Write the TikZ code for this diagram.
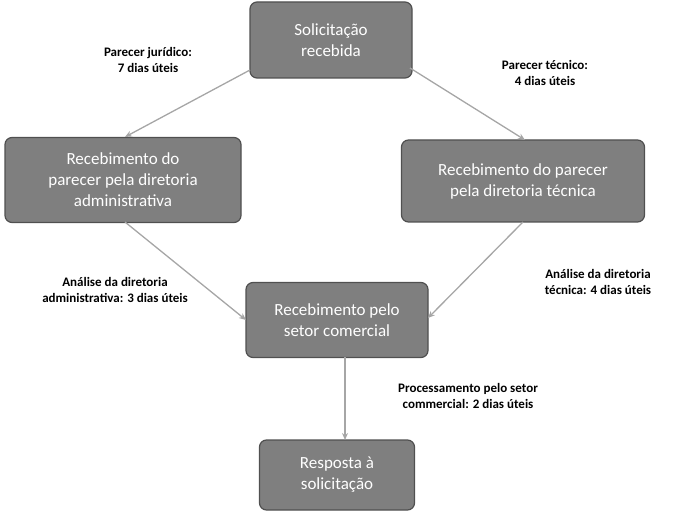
\documentclass[tikz,border=0pt]{standalone}
\usepackage{fontspec}
\setmainfont{Carlito}
\usetikzlibrary{arrows.meta}
\definecolor{boxfill}{HTML}{7F7F7F}
\definecolor{boxline}{HTML}{505050}
\definecolor{arr}{HTML}{A6A6A6}
\begin{document}
\begin{tikzpicture}[x=1pt,y=-1pt,
  box/.style={draw=boxline,line width=1.2pt,fill=boxfill,rounded corners=7pt,text=white,font=\fontsize{17}{21}\selectfont,align=center,inner sep=0pt},
  lab/.style={font=\bfseries\fontsize{13}{16}\selectfont,align=center},
  con/.style={draw=arr,line width=1.3pt,-{Stealth[length=7pt,width=6pt]}}]
\useasboundingbox (0,0) rectangle (680,513);
\node[box,minimum width=162pt,minimum height=76pt] (a) at (331,40) {Solicitação\\recebida};
\node[box,minimum width=236pt,minimum height=85pt] (b) at (123,180) {Recebimento do\\parecer pela diretoria\\administrativa};
\node[box,minimum width=243pt,minimum height=82pt] (c) at (523,181) {Recebimento do parecer\\pela diretoria técnica};
\node[box,minimum width=182pt,minimum height=75pt] (d) at (337,320) {Recebimento pelo\\setor comercial};
\node[box,minimum width=155pt,minimum height=70pt] (e) at (337,475) {Resposta à\\solicitação};
\coordinate (a1) at (250,70); \coordinate (a2) at (410,68);
\coordinate (b1) at (125,137); \coordinate (c1) at (525,140);
\coordinate (b2) at (125,222); \coordinate (d1) at (246,320);
\coordinate (c2) at (523,222); \coordinate (d2) at (428,318);
\coordinate (d3) at (345,357); \coordinate (e1) at (345,440);
\draw[con] (a1) -- (b1);
\draw[con] (a2) -- (c1);
\draw[con] (b2) -- (d1);
\draw[con] (c2) -- (d2);
\draw[con] (d3) -- (e1);
\node[lab] (l1) at (148,60) {Parecer jurídico:\\7 dias úteis};
\node[lab] (l2) at (545,73) {Parecer técnico:\\4 dias úteis};
\node[lab] (l3) at (115,290) {Análise da diretoria\\administrativa: 3 dias úteis};
\node[lab] (l4) at (598,282) {Análise da diretoria\\técnica: 4 dias úteis};
\node[lab] (l5) at (468,396) {Processamento pelo setor\\commercial: 2 dias úteis};
\end{tikzpicture}
\end{document}
